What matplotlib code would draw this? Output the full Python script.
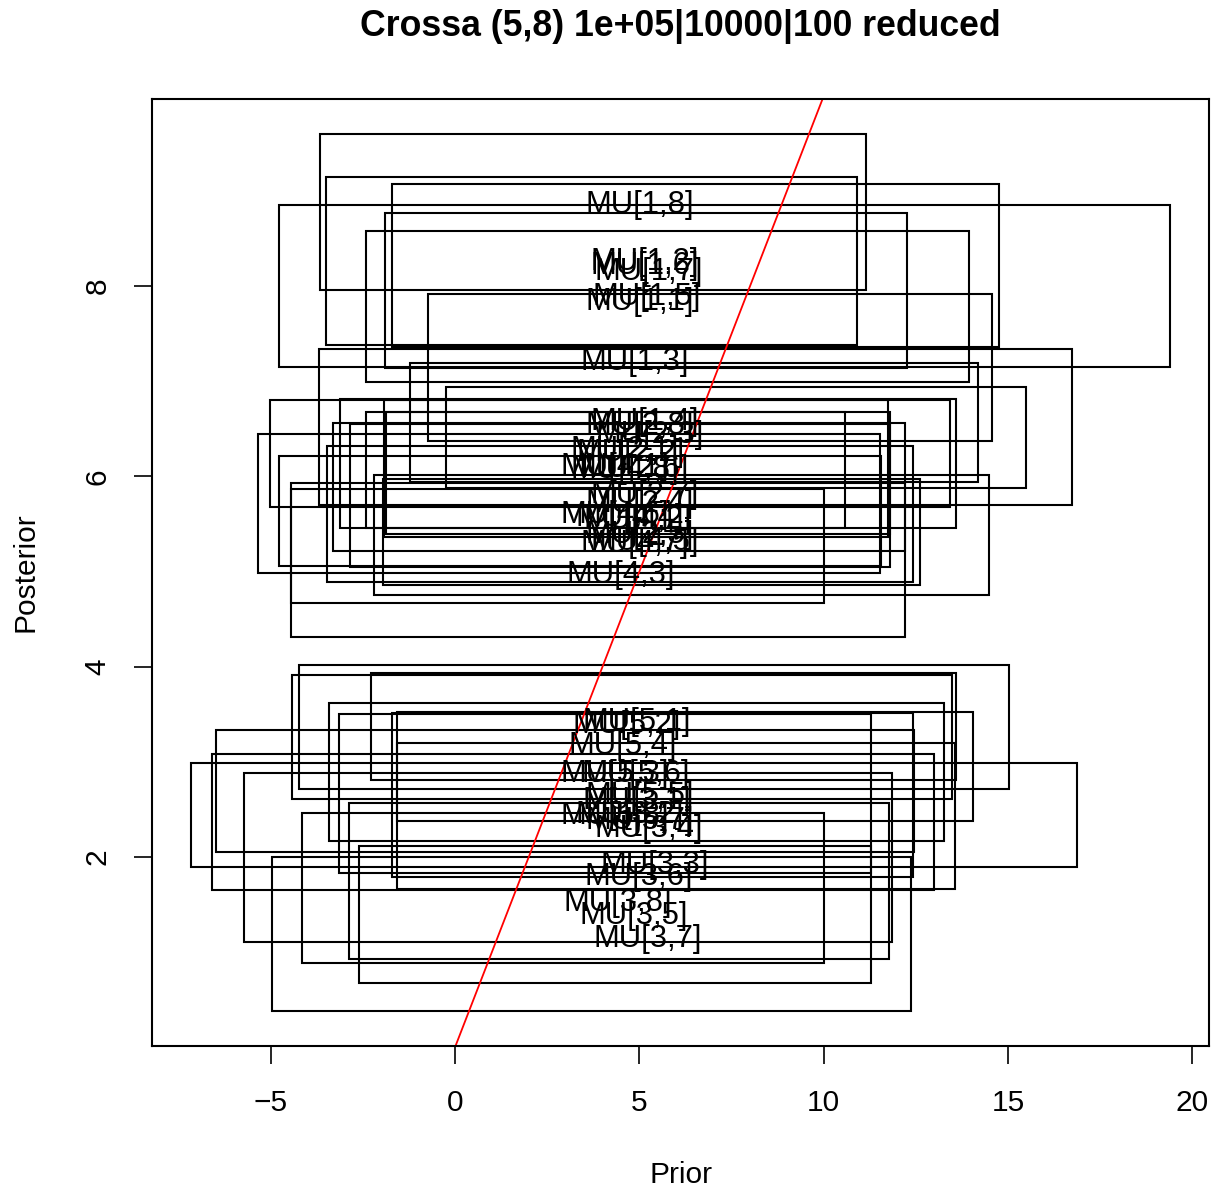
import matplotlib
matplotlib.use("Agg")
import matplotlib.pyplot as plt
from matplotlib.patches import Rectangle

plt.rcParams['font.family'] = ['Liberation Sans', 'DejaVu Sans']

labels = ["MU[%d,%d]" % (i, j) for i in range(1, 6) for j in range(1, 9)]

prior_mean = [5.02, 5.15, 4.88, 5.15, 5.20, 5.15, 5.26, 5.02,
              4.61, 4.75, 5.29, 5.02, 5.02, 4.88, 5.15, 5.02,
              4.94, 4.75, 5.42, 5.26, 4.85, 4.99, 5.23, 4.42,
              4.34, 4.96, 4.50, 4.75, 5.15, 4.34, 4.88, 4.61,
              4.94, 4.66, 4.34, 4.56, 5.02, 4.91, 5.02, 4.34]
post_mean = [7.87, 8.29, 7.24, 6.61, 7.92, 8.25, 8.19, 8.89,
             6.31, 6.28, 6.47, 5.75, 5.42, 6.12, 5.84, 6.57,
             2.62, 2.48, 1.95, 2.33, 1.41, 1.82, 1.17, 1.55,
             6.14, 5.58, 5.00, 5.60, 5.35, 5.63, 5.33, 6.10,
             3.45, 3.42, 2.91, 3.20, 2.68, 2.91, 2.41, 2.47]
prior_lo = [-2.41, -3.50, -0.73, -3.69, -1.90, -1.71, -4.78, -3.66,
            -5.02, -3.12, -0.24, -2.85, -1.95, -2.41, -3.31, -1.23,
            -3.15, -1.71, -5.72, -6.59, -2.60, -2.87, -4.96, -4.15,
            -1.93, -3.47, -4.45, -4.77, -2.20, -5.34, -4.45, -1.87,
            -4.23, -2.28, -1.57, -4.42, -6.48, -3.42, -1.57, -7.16]
prior_hi = [13.94, 10.90, 14.56, 16.73, 12.26, 14.75, 19.39, 11.15,
            13.43, 13.59, 15.49, 11.80, 12.61, 10.58, 12.20, 14.18,
            11.28, 12.42, 11.85, 12.99, 11.28, 11.77, 12.37, 10.01,
            11.74, 12.42, 12.20, 11.55, 14.48, 11.53, 10.01, 11.80,
            15.03, 13.59, 14.05, 13.48, 12.45, 13.26, 13.56, 16.87]
post_lo = [6.99, 7.38, 6.37, 5.70, 7.14, 7.36, 7.15, 7.96,
           5.68, 5.46, 5.88, 5.05, 4.86, 5.46, 5.22, 5.94,
           1.83, 1.79, 1.11, 1.65, 0.67, 0.93, 0.38, 0.88,
           5.36, 4.89, 4.31, 5.06, 4.75, 4.98, 4.67, 5.39,
           2.71, 2.81, 2.38, 2.61, 2.05, 2.17, 1.66, 1.89]
post_hi = [8.58, 9.15, 7.92, 7.34, 8.77, 9.07, 8.85, 9.60,
           6.80, 6.81, 6.94, 6.55, 5.97, 6.68, 6.56, 7.19,
           3.50, 3.51, 2.88, 3.08, 2.11, 2.57, 2.00, 2.46,
           6.80, 6.32, 5.93, 6.22, 6.02, 6.45, 5.87, 6.68,
           4.02, 3.93, 3.52, 3.91, 3.33, 3.62, 3.20, 2.99]

x_ticks = [-5, 0, 5, 10, 15, 20]
y_ticks = [2, 4, 6, 8]
title = "Crossa (5,8) 1e+05|10000|100 reduced"

W, H = 1218, 1192
fig = plt.figure(figsize=(W / 100, H / 100), dpi=100)
ax = fig.add_axes([152 / W, 1 - 1046 / H, (1209 - 152) / W, (1046 - 99) / H])

fs = 21.5
for lab, pm, qm, xl, xh, yl, yh in zip(labels, prior_mean, post_mean,
                                       prior_lo, prior_hi, post_lo, post_hi):
    ax.add_patch(Rectangle((xl, yl), xh - xl, yh - yl, fill=False,
                           edgecolor='black', linewidth=1.5))
    ax.text(pm, qm, lab, ha='center', va='center_baseline', fontsize=22.3,
            color='black')

# R-style 4% axis expansion
xmin, xmax = min(prior_lo), max(prior_hi)
ymin, ymax = min(post_lo), max(post_hi)
dx, dy = (xmax - xmin) * 0.04, (ymax - ymin) * 0.04
ax.set_xlim(xmin - dx, xmax + dx)
ax.set_ylim(ymin - dy, ymax + dy)

ax.axline((0, 0), slope=1, color='red', linewidth=1.3)

ax.set_xticks(x_ticks)
ax.set_yticks(y_ticks)
ax.set_xticklabels([("\u2212%d" % -t) if t < 0 else str(t) for t in x_ticks])
ax.set_yticklabels([str(t) for t in y_ticks], rotation=90, va='center')
ax.tick_params(axis='both', length=13, width=1.2, labelsize=fs, direction='out')
ax.tick_params(axis='x', pad=18)
ax.tick_params(axis='y', pad=16)
for s in ax.spines.values():
    s.set_linewidth(1.5)

fig.text(680.5 / W, 1 - 27 / H, title, ha='center', va='center',
         fontsize=25.7, fontweight='bold')
fig.text(680.5 / W, 1 - 1175 / H, "Prior", ha='center', va='center', fontsize=fs)
fig.text(25 / W, 1 - 572 / H, "Posterior", ha='center', va='center',
         fontsize=fs, rotation=90)

fig.savefig("out.png", dpi=100)
